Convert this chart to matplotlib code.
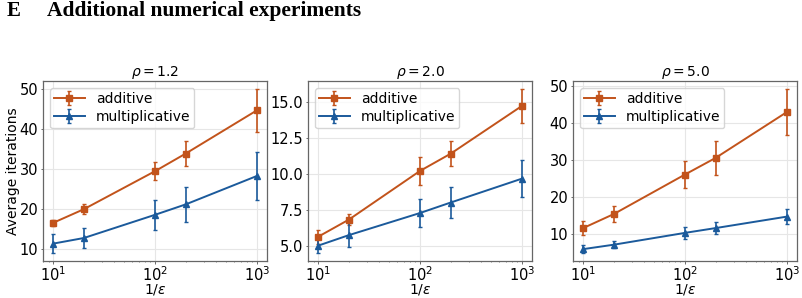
import numpy as np
from matplotlib import pyplot as plt

# data
inv_eps = [10, 20, 100, 200, 1000]
rhos = [1.2, 2.0, 5.0]

add_mean = [[16.6, 20.0, 29.5, 33.9, 44.7],
            [5.62, 6.81, 10.2, 11.4, 14.72],
            [11.5, 15.3, 26.0, 30.5, 42.9]]
add_err = [[0.8, 1.2, 2.3, 3.2, 5.3],
           [0.5, 0.4, 0.95, 0.87, 1.17],
           [1.9, 2.2, 3.7, 4.5, 6.2]]
mult_mean = [[11.4, 12.8, 18.6, 21.2, 28.3],
             [5.0, 5.73, 7.27, 8.0, 9.66],
             [5.8, 7.0, 10.2, 11.5, 14.6]]
mult_err = [[2.3, 2.5, 3.7, 4.4, 6.0],
            [0.5, 0.85, 1.0, 1.05, 1.3],
            [1.0, 1.0, 1.6, 1.7, 2.1]]

c_add = '#c2531b'
c_mult = '#1b5a9b'

W, H = 802, 298
fig = plt.figure(figsize=(W / 100, H / 100), dpi=100)

fig.text(7 / W, 1 - 16 / H, 'E', family='Liberation Serif',
         fontweight='bold', fontsize=15, ha='left', va='baseline')
fig.text(47 / W, 1 - 16 / H, 'Additional numerical experiments',
         family='Liberation Serif', fontweight='bold', fontsize=15.5,
         ha='left', va='baseline')

lefts = [43, 308, 573]
for i in range(3):
    ax = fig.add_axes([lefts[i] / W, 1 - 261 / H, 224 / W, 180 / H])
    ax.errorbar(inv_eps, add_mean[i], yerr=add_err[i], color=c_add,
                marker='s', markersize=4.5, capsize=1.6, elinewidth=1.2,
                lw=1.4, label='additive')
    ax.errorbar(inv_eps, mult_mean[i], yerr=mult_err[i], color=c_mult,
                marker='^', markersize=4.5, capsize=1.6, elinewidth=1.2,
                lw=1.4, label='multiplicative')
    ax.set_xscale('log')
    ax.grid(True, color='#e6e6e6', lw=0.8)
    ax.set_axisbelow(True)
    ax.set_title(r'$\rho = %.1f$' % rhos[i], fontsize=10, pad=3)
    ax.set_xlabel(r'$1/\varepsilon$', fontsize=10, labelpad=-1)
    ax.tick_params(labelsize=10.5, length=1.8, width=0.6, pad=1.5,
                   color='#555555')
    ax.tick_params(axis='x', pad=1.0)
    ax.tick_params(which='minor', length=1.0, width=0.5, color='#555555')
    for s in ax.spines.values():
        s.set_color('#666666')
        s.set_linewidth(0.9)
    ax.legend(loc='upper left', fontsize=10, handlelength=2.2,
              borderpad=0.3, labelspacing=0.3)
    if i == 0:
        ax.set_ylabel('Average iterations', fontsize=10, labelpad=0)

plt.savefig('out.png', dpi=100)
